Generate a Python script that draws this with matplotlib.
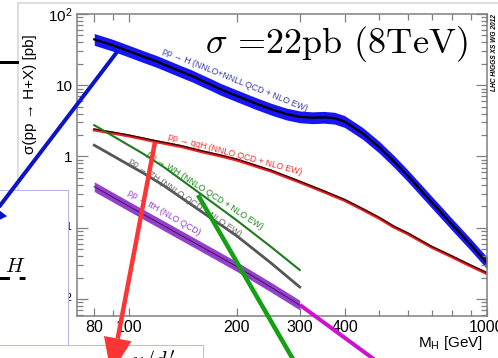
import numpy as np
import matplotlib
matplotlib.use('Agg')
import matplotlib.pyplot as plt
from matplotlib.patches import Polygon, Rectangle
from matplotlib.lines import Line2D
from matplotlib.ticker import NullFormatter

plt.rcParams['font.family'] = ['Liberation Sans', 'DejaVu Sans']
plt.rcParams['mathtext.fontset'] = 'custom'
plt.rcParams['mathtext.rm'] = 'Liberation Sans'
plt.rcParams['mathtext.it'] = 'Liberation Sans:italic'

# cross sections at 8 TeV [pb]
mass_ggf = [80, 90, 100, 110, 120, 130, 140, 150, 160, 170, 180, 200, 225, 250, 275,
            300, 325, 350, 375, 400, 450, 500, 550, 600, 700, 800, 900, 1000]
xs_ggf = [44, 36.5, 30.0, 25.1, 21.4, 18.1, 15.5, 13.5, 11.6, 10.1, 8.8, 7.1, 5.6, 4.6, 3.95,
          3.6, 3.5, 3.55, 3.45, 3.1, 2.1, 1.35, 0.85, 0.54, 0.23, 0.11, 0.058, 0.032]

mass_vbf = [80, 90, 100, 120, 140, 160, 180, 200, 250, 300, 350, 400, 450, 500,
            550, 600, 700, 800, 900, 1000]
xs_vbf = [2.43, 2.2, 2.0, 1.65, 1.42, 1.2, 1.05, 0.92, 0.64, 0.45, 0.33, 0.25, 0.185, 0.14,
          0.105, 0.085, 0.055, 0.04, 0.03, 0.0234]

mass_low = [80, 90, 100, 110, 125, 150, 175, 200, 250, 300]
xs_wh = [2.75, 1.95, 1.43, 1.08, 0.714, 0.366, 0.208, 0.127, 0.0533, 0.0255]
xs_zh = [1.44, 1.03, 0.76, 0.58, 0.391, 0.208, 0.122, 0.0769, 0.0316, 0.0147]
xs_tth = [0.377, 0.270, 0.200, 0.153, 0.107, 0.0641, 0.0416, 0.0285, 0.0145, 0.0082]

xticks = [80, 100, 200, 300, 400, 1000]
xtick_labels = ['80', '100', '200', '300', '400', '1000']
yticks = [1e-2, 1e-1, 1, 10, 100]
ytick_labels = ['$10^{-2}$', '$10^{-1}$', '1', '10', '$10^{2}$']

W, H = 498, 358
fig = plt.figure(figsize=(W / 100, H / 100), dpi=100)
inch = fig.dpi_scale_trans


def P(x, y):
    # picture pixels (origin top left) -> inches
    return x / 100, (H - y) / 100


def pw(p):
    # pixels -> points
    return p * 0.72


ax = fig.add_axes([77 / W, 1 - 316 / H, (487 - 77) / W, (316 - 14) / H])
ax.set_xscale('log')
ax.set_yscale('log')

m = np.array(mass_ggf)
s = np.array(xs_ggf)
ax.fill_between(m, s / 1.21, s * 1.21, color='#1515f5', lw=0)
ax.plot(m, s, color='black', lw=1.6)

ax.plot(mass_vbf, np.array(xs_vbf) * 0.97, color='#ee2020', lw=2.2)
ax.plot(mass_vbf, xs_vbf, color='#3a0a0a', lw=1.0)

ax.plot(mass_low, xs_wh, color='#1d7a1d', lw=1.5)
ax.plot(mass_low, xs_zh, color='#555555', lw=2.0)

t = np.array(xs_tth)
ax.fill_between(mass_low, t / 1.17, t * 1.17, color='#9440cc', lw=0)
ax.plot(mass_low, t, color='#4a1a66', lw=0.8)

lab = dict(fontsize=6.3, ha='left', va='baseline', rotation_mode='anchor')
ax.text(123.7, 28.4, 'pp → H (NNLO+NNLL QCD + NLO EW)', color='#3a3ab0', rotation=-22, **lab)
ax.text(128.5, 1.76, 'pp → qqH (NNLO QCD + NLO EW)', color='#e83030', rotation=-15, **lab)
ax.text(111.6, 1.03, 'pp → WH (NNLO QCD + NLO EW)', color='#1d8a1d', rotation=-33, **lab)
ax.text(99.4, 0.84, 'pp → ZH (NNLO QCD + NLO EW)', color='#666666', rotation=-34, **lab)
ax.text(98.7, 0.295, 'pp → ttH (NLO QCD)', color='#9a3ad0', rotation=-30, **lab)

ax.set_xlim(71.6, 1000)
ax.set_ylim(0.00577, 100)
ax.set_xticks(xticks)
ax.set_xticklabels(xtick_labels)
ax.set_xticks([90, 500, 600, 700, 800, 900], minor=True)
ax.set_yticks(yticks)
ax.set_yticklabels(ytick_labels)
ax.set_yticks([k * 10.0 ** e for e in range(-3, 2) for k in range(2, 10)
               if 0.00577 < k * 10.0 ** e < 100], minor=True)
ax.xaxis.set_minor_formatter(NullFormatter())
ax.yaxis.set_minor_formatter(NullFormatter())
ax.tick_params(which='both', direction='in', top=True, right=True, color='#808080',
               labelsize=11.5, pad=3, width=0.9)
ax.tick_params(axis='y', labelsize=11)
ax.tick_params(which='major', length=6)
ax.tick_params(axis='y', which='major', length=8)
ax.tick_params(which='minor', length=4)
for sp in ax.spines.values():
    sp.set_color('#808080')
    sp.set_linewidth(1.1)

fig.text(*P(30, 94), 'σ(pp → H+X) [pb]', transform=inch, rotation=90,
         ha='center', va='center', fontsize=11)
fig.text(*P(483, 343), 'M$_{\\mathrm{H}}$ [GeV]', transform=inch, ha='right',
         va='center', fontsize=11)
fig.text(*P(495, 53), 'LHC HIGGS XS WG 2012', transform=inch, rotation=90,
         ha='center', va='center', fontsize=4.8, weight='bold', style='italic')
fig.text(*P(205, 53), '$\\sigma$ =22pb (8TeV)', transform=inch, family='cmr10',
         math_fontfamily='cm', fontsize=26, ha='left', va='baseline')

# slide pieces around the embedded plot
fig.add_artist(Line2D([P(18, 3)[0], P(500, 3)[0]], [P(18, 3)[1]] * 2, transform=inch,
                      color='#d4d4d4', lw=pw(1.5), zorder=4))
fig.add_artist(Line2D([P(18, 3)[0]] * 2, [P(18, 3)[1], P(18, 190)[1]], transform=inch,
                      color='#d4d4d4', lw=pw(1.5), zorder=4))
fig.add_artist(Line2D([P(-2, 62)[0], P(17, 62)[0]], [P(0, 62)[1]] * 2, transform=inch,
                      color='black', lw=pw(3), zorder=4))

fig.add_artist(Rectangle(P(-5, 360), 73 / 100, 170 / 100, transform=inch, facecolor='white',
                         edgecolor='#b4b4f0', lw=pw(1), zorder=5))
fig.text(*P(5, 272), '$H$', transform=inch, math_fontfamily='cm', fontsize=15,
         ha='left', va='baseline', zorder=6)
fig.add_artist(Line2D([P(-1, 278)[0], P(25, 278)[0]], [P(0, 278)[1]] * 2, transform=inch,
                      color='black', lw=pw(3), dashes=(3.5, 3.2), zorder=6))

fig.add_artist(Rectangle(P(-5, 400), 208 / 100, 55 / 100, transform=inch, facecolor='white',
                         edgecolor='#f4a8a8', lw=pw(1), zorder=7))
fig.text(*P(131, 348), "$u/d'$", transform=inch, math_fontfamily='cm', fontsize=16,
         ha='left', va='top', zorder=8)


def arrow(x0, y0, x1, y1, color, width, head_len=0, head_w=0):
    d = np.array([x1 - x0, y1 - y0], float)
    d /= np.hypot(*d)
    bx, by = x1 - d[0] * head_len, y1 - d[1] * head_len
    a, b = P(x0, y0), P(bx, by)
    fig.add_artist(Line2D([a[0], b[0]], [a[1], b[1]], transform=inch, color=color,
                          lw=pw(width), solid_capstyle='butt', zorder=10))
    if head_len:
        n = np.array([-d[1], d[0]]) * head_w / 2
        pts = [P(bx + n[0], by + n[1]), P(x1, y1), P(bx - n[0], by - n[1])]
        fig.add_artist(Polygon(pts, closed=True, transform=inch, color=color, lw=0, zorder=10))


arrow(117, 52, -17, 228, '#0c14c8', 4, head_len=24, head_w=24)
arrow(155, 142, 111, 374, '#ff3535', 4.5, head_len=36, head_w=28)
arrow(198, 195, 305, 380, '#14a014', 4.5)
arrow(300, 305, 390, 371, '#d010d0', 4)

fig.savefig('out.png', dpi=100)
